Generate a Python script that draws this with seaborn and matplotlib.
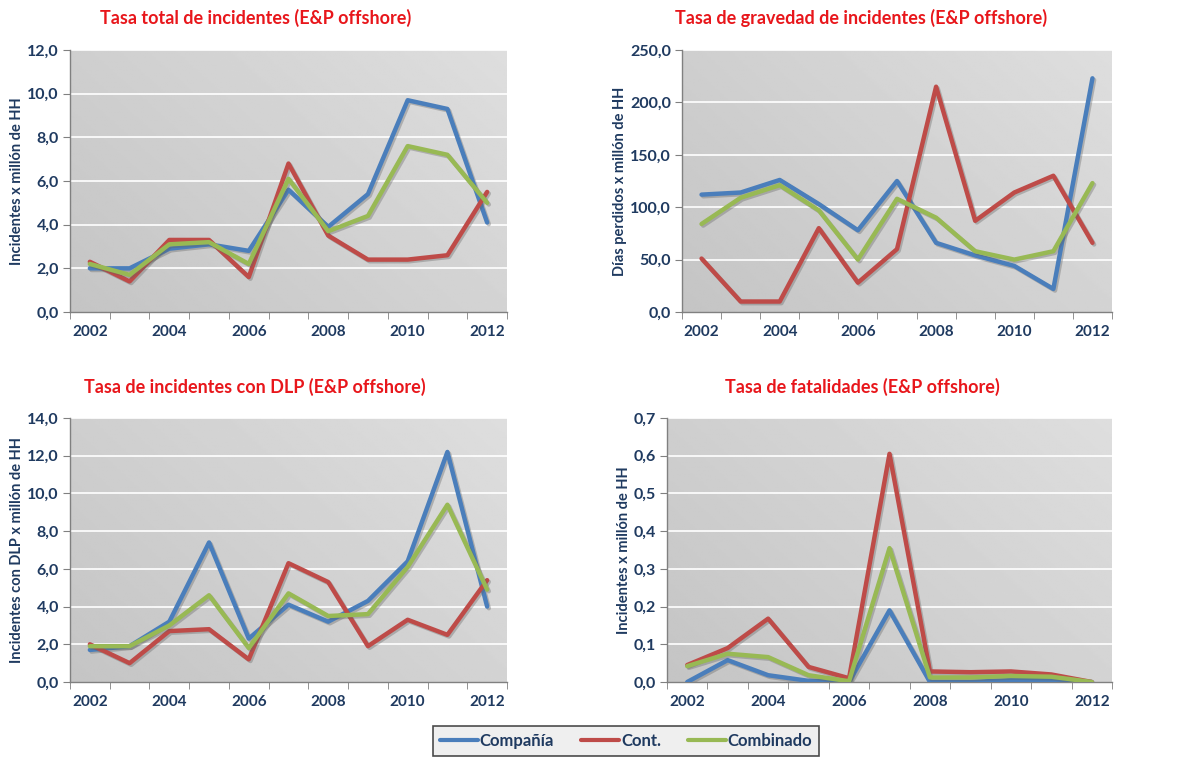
import numpy as np
import pandas as pd
import matplotlib
matplotlib.use("Agg")
import matplotlib.pyplot as plt
import matplotlib.patheffects as pe
from matplotlib.ticker import FuncFormatter, FixedLocator
import seaborn as sns

years = [2002, 2003, 2004, 2005, 2006, 2007, 2008, 2009, 2010, 2011, 2012]
series_names = ['Compañía', 'Cont.', 'Combinado']

### Tasa total de incidentes
total_comp = [2.0, 2.0, 2.9, 3.1, 2.8, 5.6, 3.9, 5.4, 9.7, 9.3, 4.1]
total_cont = [2.3, 1.4, 3.3, 3.3, 1.6, 6.8, 3.5, 2.4, 2.4, 2.6, 5.5]
total_comb = [2.2, 1.7, 3.1, 3.2, 2.2, 6.1, 3.7, 4.4, 7.6, 7.2, 5.0]

### Tasa de gravedad
grav_comp = [112, 114, 126, 103, 78, 125, 66, 54, 44, 22, 223]
grav_cont = [51, 10, 10, 80, 28, 60, 215, 87, 114, 130, 66]
grav_comb = [84, 109, 121, 97, 50, 108, 90, 58, 50, 58, 123]

### Tasa de incidentes con DLP
dlp_comp = [1.7, 1.9, 3.2, 7.4, 2.3, 4.1, 3.2, 4.3, 6.4, 12.2, 4.0]
dlp_cont = [2.0, 1.0, 2.7, 2.8, 1.2, 6.3, 5.3, 1.9, 3.3, 2.5, 5.4]
dlp_comb = [1.9, 1.9, 3.0, 4.6, 1.8, 4.7, 3.5, 3.6, 6.1, 9.4, 4.9]

### Tasa de fatalidades
fat_comp = [0.0, 0.058, 0.018, 0.003, 0.0, 0.19, 0.0, 0.0, 0.005, 0.005, 0.0]
fat_cont = [0.045, 0.09, 0.168, 0.04, 0.01, 0.605, 0.028, 0.026, 0.028, 0.02, 0.0]
fat_comb = [0.042, 0.075, 0.066, 0.018, 0.002, 0.355, 0.012, 0.012, 0.016, 0.014, 0.0]

titles = ['Tasa total de incidentes (E&P offshore)',
          'Tasa de gravedad de incidentes (E&P offshore)',
          'Tasa de incidentes con DLP (E&P offshore)',
          'Tasa de fatalidades (E&P offshore)']
ylabels = ['Incidentes x millón de HH',
           'Días perdidos x millón de HH',
           'Incidentes con DLP x millón de HH',
           'Incidentes x millón de HH']
ymax = [12.0, 250.0, 14.0, 0.7]
ystep = [2.0, 50.0, 2.0, 0.1]

panels = [(total_comp, total_cont, total_comb),
          (grav_comp, grav_cont, grav_comb),
          (dlp_comp, dlp_cont, dlp_comb),
          (fat_comp, fat_cont, fat_comb)]

colors = ['#4a7ebb', '#be4b48', '#98b954']
navy = '#1f3a60'

sns.set_style('white')
plt.rcParams['font.family'] = ['Lato', 'DejaVu Sans']

fig = plt.figure(figsize=(11.84, 7.58), dpi=100)
W, H = 1184.0, 758.0
boxes = [(70, 50, 507, 312), (682, 50, 1112, 312),
         (70, 418, 507, 682), (667, 418, 1112, 682)]
title_pos = [(256, 18), (861, 18), (255, 387), (862, 387)]

# background shading of the plot area
gx, gy = np.meshgrid(np.linspace(0, 1, 200), np.linspace(0, 1, 200))
grad = 0.77 + 0.10 * (0.6 * gx + 0.4 * (1 - gy))
shadow = [pe.SimpleLineShadow(offset=(1.2, -1.2), shadow_color='#606060', alpha=0.35), pe.Normal()]

for k, (x0, y0, x1, y1) in enumerate(boxes):
    ax = fig.add_axes([x0 / W, 1 - y1 / H, (x1 - x0) / W, (y1 - y0) / H])
    comp, cont, comb = panels[k]
    df = pd.DataFrame({
        'pos': list(range(len(years))) * 3,
        'valor': comp + cont + comb,
        'serie': [series_names[0]] * len(years) + [series_names[1]] * len(years) + [series_names[2]] * len(years),
    })
    ax.imshow(grad, cmap='gray', vmin=0, vmax=1, extent=[0, 1, 0, 1],
              transform=ax.transAxes, aspect='auto', zorder=0)
    for yv in np.arange(ystep[k], ymax[k] + ystep[k] / 2, ystep[k]):
        ax.axhline(yv, color='white', lw=1.2, zorder=1)
    sns.lineplot(data=df, x='pos', y='valor', hue='serie', hue_order=series_names,
                 palette=colors, lw=3.2, ax=ax, legend=False, zorder=3)
    for ln in ax.get_lines():
        if ln.get_linewidth() > 2:
            ln.set_path_effects(shadow)
    ax.set_xlim(-0.5, len(years) - 0.5)
    ax.set_ylim(0, ymax[k])
    ax.set_xticks(range(0, len(years), 2))
    ax.set_xticklabels([str(years[i]) for i in range(0, len(years), 2)])
    ax.xaxis.set_minor_locator(FixedLocator(np.arange(-0.5, len(years), 1.0)))
    ax.tick_params(axis='x', which='major', length=0, pad=9, labelsize=11, labelcolor=navy)
    ax.tick_params(axis='x', which='minor', length=5, direction='out', color='#808080', bottom=True)
    ax.set_yticks(np.arange(0, ymax[k] + ystep[k] / 2, ystep[k]))
    ax.yaxis.set_major_formatter(FuncFormatter(lambda v, p: f'{v:.1f}'.replace('.', ',')))
    ax.tick_params(axis='y', length=5, direction='out', color='#808080', left=True,
                   labelsize=11.5, labelcolor=navy, pad=3)
    for lab in ax.get_xticklabels() + ax.get_yticklabels():
        lab.set_fontweight('bold')
    for s in ['top', 'right']:
        ax.spines[s].set_visible(False)
    for s in ['left', 'bottom']:
        ax.spines[s].set_color('#808080')
        ax.spines[s].set_linewidth(1)
    ax.set_xlabel('')
    ax.set_ylabel(ylabels[k], fontsize=10.5, fontweight='bold', color=navy, labelpad=2)
    fig.text(title_pos[k][0] / W, 1 - title_pos[k][1] / H, titles[k], ha='center', va='center',
             fontsize=13, fontweight='bold', color='#e8161b')

handles = [plt.Line2D([], [], color=c, lw=3) for c in colors]
leg = fig.legend(handles, series_names, ncol=3, loc='center', bbox_to_anchor=(626 / W, 1 - 741 / H),
                 frameon=True, fancybox=False, edgecolor='#202020', facecolor='#ececec',
                 handlelength=2.3, handletextpad=0.1, columnspacing=1.6, borderpad=0.4,
                 borderaxespad=0, prop={'size': 12, 'weight': 'bold'})
leg.get_frame().set_linewidth(1.2)
for t in leg.get_texts():
    t.set_color(navy)

fig.savefig('out.png', dpi=100, facecolor='white')
